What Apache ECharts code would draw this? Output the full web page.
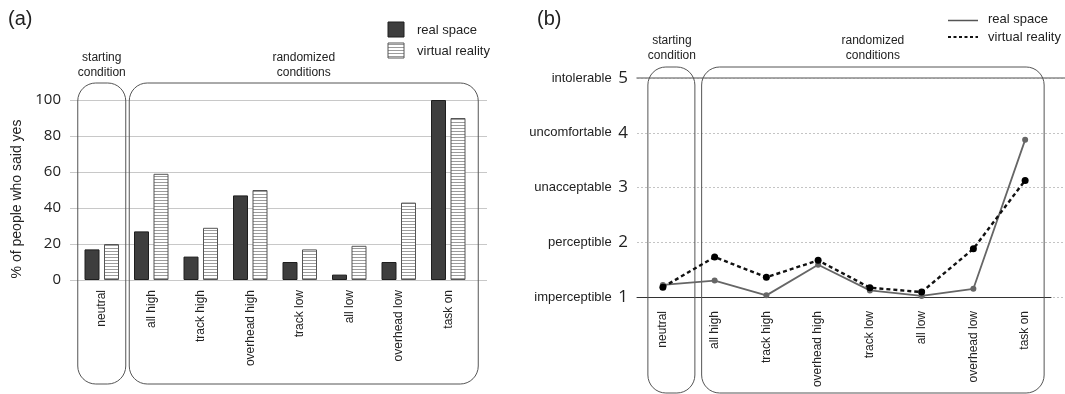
<!DOCTYPE html>
<html>
<head>
<meta charset="utf-8">
<script src="https://cdn.jsdelivr.net/npm/echarts@6/dist/echarts.min.js"></script>
<style>
  html, body { margin: 0; padding: 0; background: #fff; }
  #chart { width: 1065px; height: 394px; }
</style>
</head>
<body>
<div id="chart"></div>
<script>
// Conditions, in the order they are shown on both panels
const categories = ['neutral', 'all high', 'track high', 'overhead high', 'track low', 'all low', 'overhead low', 'task on'];

// (a) share of people who said yes, in percent
const yesReal = [17, 27, 13, 47, 10, 3, 10, 100];
const yesVR = [20, 59, 29, 50, 17, 19, 43, 90];
const percentTicks = { min: 0, max: 100, step: 20 };

// (b) mean rating on the 1..5 scale
const ratingReal = [1.22, 1.30, 1.03, 1.59, 1.12, 1.02, 1.15, 3.87];
const ratingVR = [1.18, 1.73, 1.36, 1.67, 1.17, 1.09, 1.88, 3.13];
const ratingLabels = ['imperceptible', 'perceptible', 'unacceptable', 'uncomfortable', 'intolerable'];

const seriesNames = ['real space', 'virtual reality'];
const groupNames = ['starting\ncondition', 'randomized\nconditions'];

const SANS = '"Liberation Sans", Arial, sans-serif';
const NUM = '"Open Sans", "Liberation Sans", sans-serif';
const INK = '#222';

// horizontal hatching used for the virtual reality bars
function hatch() {
  const c = document.createElement('canvas');
  c.width = 4; c.height = 3;
  const g = c.getContext('2d');
  g.fillStyle = '#ffffff'; g.fillRect(0, 0, 4, 3);
  g.fillStyle = '#9c9c9c'; g.fillRect(0, 2, 4, 1);
  return c;
}
const hatchFill = { image: hatch(), repeat: 'repeat' };
const darkFill = '#3e3e3e';

const chart = echarts.init(document.getElementById('chart'), null, { renderer: 'canvas' });

const catLabel = {
  rotate: 90, margin: 10, color: INK, fontFamily: SANS, fontSize: 12
};

const option = {
  animation: false,
  backgroundColor: '#fff',
  grid: [
    // (a) horizontal rules
    { left: 70, width: 417, top: 100, bottom: 114 },
    // (a) bars
    { left: 77, width: 396, top: 100, bottom: 114 },
    // (b) rules
    { left: 637, right: 0, top: 78, bottom: 97 },
    // (b) lines
    { left: 637, width: 414, top: 78, bottom: 97 }
  ],
  xAxis: [
    { gridIndex: 0, type: 'value', min: 0, max: 1, show: false },
    {
      gridIndex: 1, type: 'category', data: categories,
      axisLine: { show: false }, axisTick: { show: false },
      axisLabel: catLabel
    },
    {
      gridIndex: 2, type: 'value', min: 0, max: 1, position: 'top',
      axisLine: { show: true, lineStyle: { color: '#8a8a8a', width: 1.5 } },
      axisTick: { show: false }, axisLabel: { show: false }, splitLine: { show: false }
    },
    {
      gridIndex: 3, type: 'category', data: categories, boundaryGap: true,
      axisLine: { show: true, lineStyle: { color: '#333', width: 1 } },
      axisTick: { show: false },
      axisLabel: Object.assign({}, catLabel, { margin: 14 })
    }
  ],
  yAxis: [
    {
      gridIndex: 0, type: 'value',
      min: percentTicks.min, max: percentTicks.max, interval: percentTicks.step,
      axisLine: { show: false }, axisTick: { show: false },
      axisLabel: { margin: 9, color: INK, fontFamily: NUM, fontSize: 15 },
      splitLine: { show: true, lineStyle: { color: '#c8c8c8', width: 1 } }
    },
    { gridIndex: 1, type: 'value', min: percentTicks.min, max: percentTicks.max, show: false },
    {
      gridIndex: 2, type: 'value', min: 1, max: 5, interval: 1,
      axisLine: { show: false }, axisTick: { show: false },
      axisLabel: {
        margin: 9,
        formatter: v => '{w|' + ratingLabels[v - 1] + '}  {n|' + v + '}',
        rich: {
          w: { fontFamily: SANS, fontSize: 13, color: INK },
          n: { fontFamily: NUM, fontSize: 17, color: INK }
        }
      },
      splitLine: { show: true, lineStyle: { color: '#c4c4c4', width: 1, type: [2, 2] } }
    },
    { gridIndex: 3, type: 'value', min: 1, max: 5, show: false }
  ],
  series: [
    {
      name: seriesNames[0], type: 'bar', xAxisIndex: 1, yAxisIndex: 1,
      data: yesReal, barWidth: 15, barGap: '30%',
      itemStyle: { color: darkFill, borderColor: '#1e1e1e', borderWidth: 1 }
    },
    {
      name: seriesNames[1], type: 'bar', xAxisIndex: 1, yAxisIndex: 1,
      data: yesVR, barWidth: 15, barGap: '30%',
      itemStyle: { color: hatchFill, borderColor: '#555', borderWidth: 1 }
    },
    {
      name: seriesNames[0], type: 'line', xAxisIndex: 3, yAxisIndex: 3,
      data: ratingReal, symbol: 'circle', symbolSize: 6,
      lineStyle: { color: '#666', width: 1.8 },
      itemStyle: { color: '#666' }, z: 3
    },
    {
      name: seriesNames[1], type: 'line', xAxisIndex: 3, yAxisIndex: 3,
      data: ratingVR, symbol: 'circle', symbolSize: 7,
      lineStyle: { color: '#111', width: 2.4, type: [4, 3] },
      itemStyle: { color: '#000' }, z: 4
    }
  ]
};

chart.setOption(option);

// Annotation layer: panel tags, grouping frames with their captions, and legends
function cx(axisIndex, name) {
  return chart.convertToPixel({ xAxisIndex: axisIndex }, name);
}
function frame(x0, x1, y0, y1) {
  return {
    type: 'rect', silent: true, z: 1,
    shape: { x: x0, y: y0, width: x1 - x0, height: y1 - y0, r: 18 },
    style: { fill: 'none', stroke: '#555', lineWidth: 1 }
  };
}
function caption(x, y, text) {
  return {
    type: 'text', x: x, y: y, silent: true,
    style: { text: text, align: 'center', verticalAlign: 'top', fill: INK,
             font: '12px ' + SANS, lineHeight: 15 }
  };
}
function label(x, y, text) {
  return {
    type: 'text', x: x, y: y, silent: true,
    style: { text: text, align: 'left', verticalAlign: 'middle', fill: INK, font: '13px ' + SANS }
  };
}

const last = categories[categories.length - 1];
const aStart = cx(1, categories[0]);
const aFirst = cx(1, categories[1]);
const aLast = cx(1, last);
const bStart = cx(3, categories[0]);
const bFirst = cx(3, categories[1]);
const bLast = cx(3, last);

const graphics = [
  { type: 'text', x: 8, y: 9, style: { text: '(a)', font: '20px ' + SANS, fill: INK } },
  { type: 'text', x: 537, y: 9, style: { text: '(b)', font: '20px ' + SANS, fill: INK } },
  {
    type: 'text', x: 17, y: 199, rotation: Math.PI / 2,
    style: { text: '% of people who said yes', align: 'center', verticalAlign: 'middle',
             font: '14px ' + SANS, fill: INK }
  },

  // (a) frames
  frame(aStart - 24, aStart + 24, 83, 384),
  frame(aFirst - 22, aLast + 30, 83, 384),
  caption(aStart, 50, groupNames[0]),
  caption((aFirst - 22 + aLast + 30) / 2, 50, groupNames[1]),

  // (b) frames
  frame(bStart - 15, bStart + 32, 67, 393),
  frame(bFirst - 13, bLast + 19, 67, 393),
  caption(bStart + 9, 33, groupNames[0]),
  caption((bFirst - 13 + bLast + 19) / 2, 33, groupNames[1]),

  // (a) legend
  { type: 'rect', shape: { x: 388, y: 22, width: 16, height: 15 },
    style: { fill: darkFill, stroke: '#1e1e1e', lineWidth: 1 } },
  { type: 'rect', shape: { x: 388, y: 43, width: 16, height: 15 },
    style: { fill: hatchFill, stroke: '#555', lineWidth: 1 } },
  label(417, 30, seriesNames[0]),
  label(417, 51, seriesNames[1]),

  // (b) legend
  { type: 'line', shape: { x1: 948, y1: 20.5, x2: 978, y2: 20.5 },
    style: { stroke: '#555', lineWidth: 1.5 } },
  { type: 'line', shape: { x1: 948, y1: 37, x2: 978, y2: 37 },
    style: { stroke: '#111', lineWidth: 2, lineDash: [3, 2.5] } },
  label(988, 19, seriesNames[0]),
  label(988, 37, seriesNames[1])
];

chart.setOption({ graphic: graphics });
</script>
</body>
</html>
